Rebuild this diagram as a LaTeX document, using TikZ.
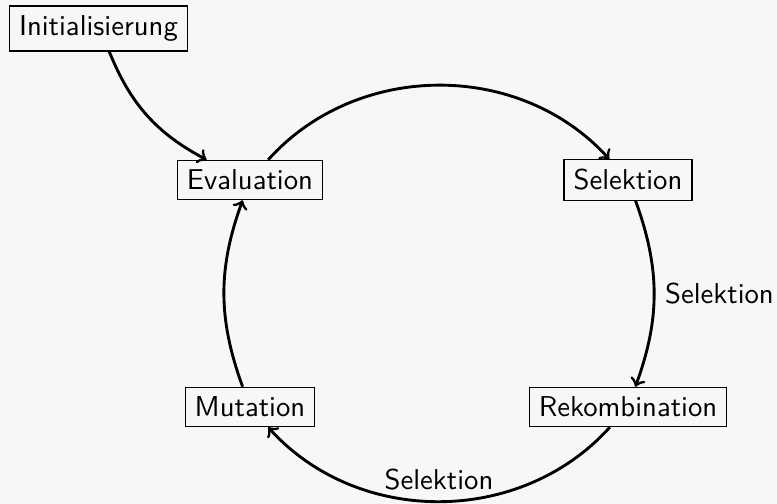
\documentclass[tikz,border=0pt]{standalone}
\definecolor{paper}{RGB}{247,247,247}
\begin{document}
\begin{tikzpicture}[x=0.3484pt,y=-0.3484pt,
  stage/.style={draw, line width=0.4pt, font=\sffamily},
  flow/.style={->, line width=1pt},
  lbl/.style={font=\sffamily}]
  % background and page frame
  \fill[paper] (0,0) rectangle (777,504);
  \useasboundingbox (0,0) rectangle (777,504);

  % stages of the evolutionary cycle
  \node[stage] (init) at (98.5,28.5) {Initialisierung};
  \node[stage] (eval) at (250,180) {Evaluation};
  \node[stage] (sel)  at (628,180) {Selektion};
  \node[stage] (rek)  at (628,407) {Rekombination};
  \node[stage] (mut)  at (250,407) {Mutation};

  % transitions
  \draw[flow] (init) to[bend right=20] (eval);
  \draw[flow] (eval) to[bend left=48] (sel);
  \draw[flow] (sel)  to[bend left=20] node[lbl, right] {Selektion} (rek);
  \draw[flow] (rek)  to[bend left=48] node[lbl, above] {Selektion} (mut);
  \draw[flow] (mut)  to[bend left=20] (eval);
\end{tikzpicture}
\end{document}
